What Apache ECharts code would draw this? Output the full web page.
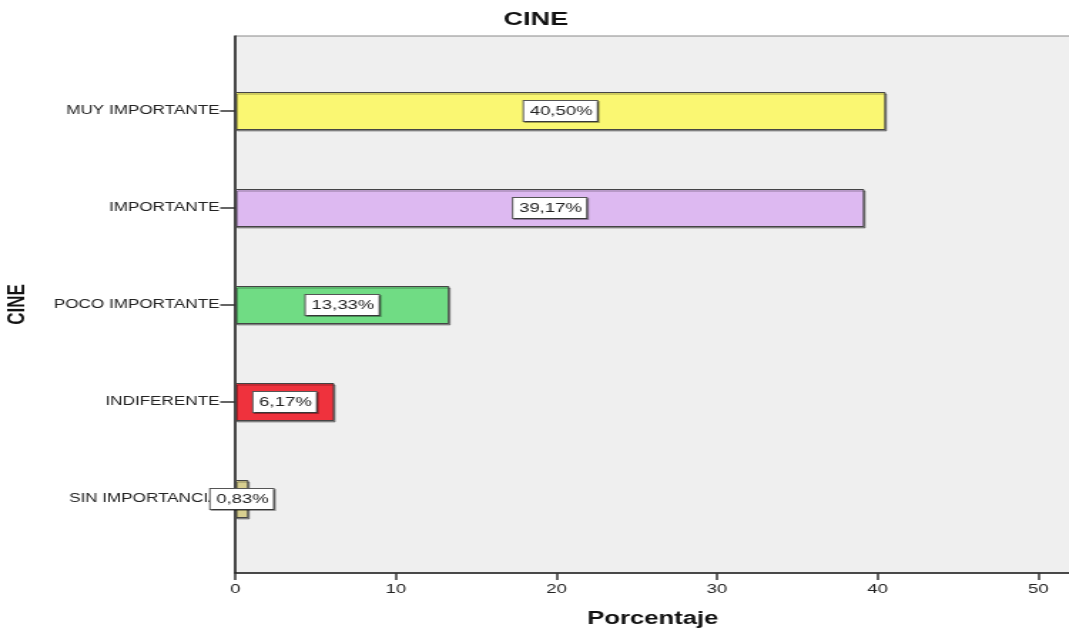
<!DOCTYPE html>
<html>
<head>
<meta charset="utf-8">
<script src="https://cdn.jsdelivr.net/npm/echarts@6/dist/echarts.min.js"></script>
<style>
  html, body { margin: 0; padding: 0; background: #fff; overflow: hidden; }
  /* the chart is laid out on a narrower canvas and widened to the page width */
  #chart { width: 750px; height: 633px; transform-origin: 0 0; transform: scaleX(1.4253); }
</style>
</head>
<body>
<div id="chart"></div>
<script>
// Survey answers for "CINE", shown as percentages
const categories = ['MUY IMPORTANTE', 'IMPORTANTE', 'POCO IMPORTANTE', 'INDIFERENTE', 'SIN IMPORTANCIA'];
const percentages = [40.50, 39.17, 13.33, 6.17, 0.83];
const barColors = ['#faf772', '#ddb9f1', '#70dc84', '#ef323d', '#d8cf90'];
const xTicks = [0, 10, 20, 30, 40, 50];

const FONT = 'Liberation Sans, Arial, sans-serif';
const fmtPct = v => v.toFixed(2).replace('.', ',') + '%';

const chart = echarts.init(document.getElementById('chart'), null, { renderer: 'canvas' });

const PLOT_LEFT = 165;

const option = {
  animation: false,
  backgroundColor: '#ffffff',
  textStyle: { fontFamily: FONT },
  graphic: [{
    type: 'text', x: 376, y: 20,
    style: { text: 'CINE', align: 'center', verticalAlign: 'middle',
             font: 'bold 19px ' + FONT, fill: '#111' }
  }],
  grid: [
    // frame: background, axis lines, x ticks
    { left: PLOT_LEFT, top: 36, right: -1, bottom: 60, show: true, outerBoundsMode: 'none',
      backgroundColor: '#efefef', borderColor: '#8a8a8a', borderWidth: 1 },
    // inner band area for the bars
    { left: PLOT_LEFT, top: 62.5, right: -1, height: 485, outerBoundsMode: 'none' }
  ],
  xAxis: [
    { gridIndex: 0, type: 'value', min: 0, max: 52,
      name: 'Porcentaje', nameLocation: 'middle', nameGap: 37,
      nameTextStyle: { fontWeight: 'bold', fontSize: 18, color: '#111', fontFamily: FONT },
      axisLine: { show: true, onZero: false, lineStyle: { color: '#222', width: 1.5 } },
      axisTick: { show: true, length: 7, customValues: xTicks, lineStyle: { color: '#333', width: 1.5 } },
      axisLabel: { customValues: xTicks, fontSize: 13, color: '#222', margin: 10, fontFamily: FONT },
      splitLine: { show: false } },
    { gridIndex: 1, type: 'value', min: 0, max: 52, show: false }
  ],
  yAxis: [
    { gridIndex: 0, type: 'value', min: 0, max: 1,
      name: 'CINE', nameLocation: 'middle', nameGap: 144, nameRotate: 90,
      nameTextStyle: { fontWeight: 'bold', fontSize: 17, color: '#111', fontFamily: FONT },
      axisLine: { show: true, lineStyle: { color: '#222', width: 1.5 } },
      axisTick: { show: false }, axisLabel: { show: false }, splitLine: { show: false } },
    { gridIndex: 1, type: 'category', data: categories, inverse: true,
      axisLine: { show: false },
      axisTick: { show: true, length: 10.5, alignWithLabel: true, lineStyle: { color: '#333', width: 1.5 } },
      axisLabel: { fontSize: 12, color: '#222', margin: 11, fontFamily: FONT } }
  ],
  series: [{
    type: 'bar', xAxisIndex: 1, yAxisIndex: 1, barWidth: 38, z: 3,
    data: percentages.map((v, i) => ({ value: v, itemStyle: { color: barColors[i] } })),
    itemStyle: { borderColor: '#444', borderWidth: 1,
                 shadowColor: 'rgba(0,0,0,0.35)', shadowOffsetX: 1, shadowOffsetY: 1.5 },
    label: {
      show: true, position: 'inside', formatter: p => fmtPct(p.value),
      fontSize: 13, color: '#222', fontFamily: FONT,
      backgroundColor: '#ffffff', borderColor: '#555', borderWidth: 1,
      padding: [4, 3, 3, 4],
      shadowColor: 'rgba(0,0,0,0.35)', shadowOffsetX: 1, shadowOffsetY: 1
    }
  }]
};

chart.setOption(option);
</script>
</body>
</html>
